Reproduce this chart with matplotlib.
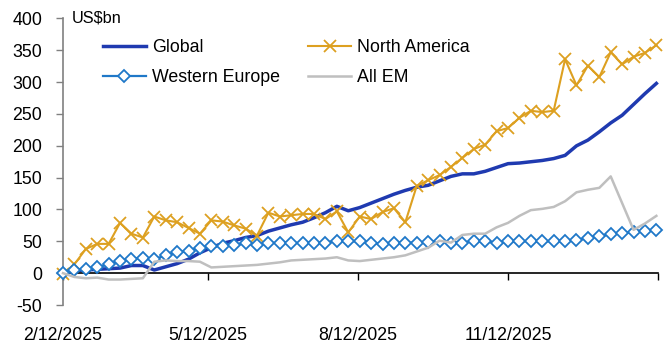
import matplotlib
matplotlib.use("Agg")
import matplotlib.pyplot as plt
import pandas as pd

# Weekly cumulative flows, US$bn
weeks = pd.date_range("2025-02-12", periods=53, freq="7D")

global_flows = [0, 4, 5, 6, 7, 8, 12, 12, 5, 10, 15, 22, 32, 40, 47, 51, 56, 59,
                66, 71, 76, 80, 87, 95, 105, 98, 103, 110, 117, 124, 130, 135,
                138, 145, 152, 156, 156, 160, 166, 172, 173, 175, 177, 180, 185,
                200, 209, 222, 236, 248, 265, 282, 298]

north_america = [-2, 14, 38, 46, 46, 79, 62, 56, 89, 83, 80, 71, 62, 83, 81, 75,
                 70, 59, 95, 89, 91, 93, 93, 85, 97, 64, 89, 85, 96, 102, 80, 137,
                 146, 154, 167, 181, 195, 202, 223, 228, 244, 255, 253, 255, 336,
                 295, 326, 308, 347, 328, 340, 346, 358]

western_europe = [0, 5, 7, 9, 14, 19, 23, 24, 22, 28, 33, 35, 40, 42, 43, 44, 47,
                  44, 48, 47, 48, 47, 48, 48, 51, 50, 50, 48, 46, 48, 48, 48, 49,
                  51, 48, 48, 50, 50, 48, 50, 50, 50, 50, 50, 50, 52, 55, 58, 61,
                  63, 64, 66, 68]

all_em = [0, -6, -8, -7, -10, -10, -9, -8, 18, 20, 19, 19, 18, 9, 10, 11, 12, 13,
          15, 17, 20, 21, 22, 23, 25, 20, 19, 21, 23, 25, 28, 34, 40, 51, 48, 60,
          62, 62, 72, 79, 90, 99, 101, 104, 113, 127, 131, 134, 152, 110, 68, 78,
          90]

tick_dates = ["2025-02-12", "2025-05-12", "2025-08-12", "2025-11-12", "2026-02-12"]
tick_labels = ["2/12/2025", "5/12/2025", "8/12/2025", "11/12/2025", ""]
y_ticks = [-50, 0, 50, 100, 150, 200, 250, 300, 350, 400]

plt.rcParams["font.family"] = ["Liberation Sans", "DejaVu Sans"]
FS = 12.8

fig = plt.figure(figsize=(6.67, 3.47), dpi=100)
ax = fig.add_axes([63 / 667, 1 - 305 / 347, 595 / 667, (305 - 18.5) / 347])

c_global = "#1F3AB0"
c_na = "#DDA020"
c_we = "#1F78C8"
c_em = "#BFBFBF"

l_g, = ax.plot(weeks, global_flows, color=c_global, lw=2.5, label="Global",
               zorder=3, clip_on=False)
l_na, = ax.plot(weeks, north_america, color=c_na, lw=1.5, marker="x", ms=8,
                mew=1.3, label="North America", zorder=4, clip_on=False)
l_we, = ax.plot(weeks, western_europe, color=c_we, lw=1.6, marker="D", ms=5.8,
                mfc="white", mec=c_we, mew=1.3, label="Western Europe",
                zorder=5, clip_on=False)
l_em, = ax.plot(weeks, all_em, color=c_em, lw=1.8, label="All EM", zorder=6,
                clip_on=False)

ax.set_xlim(pd.Timestamp("2025-02-12"), pd.Timestamp("2026-02-12"))
ax.set_ylim(-50, 400)
ax.set_yticks(y_ticks)
ax.set_yticklabels([str(v) for v in y_ticks], fontsize=FS)

# date labels sit along the bottom; the axis line itself crosses at zero
ticks = [pd.Timestamp(d) for d in tick_dates]
ax.set_xticks(ticks)
ax.set_xticklabels(tick_labels, fontsize=FS)
ax.tick_params(axis="x", length=0, pad=16)
ax.tick_params(axis="y", length=5, width=1, color="#808080", pad=10)

for side in ["top", "right", "bottom"]:
    ax.spines[side].set_visible(False)
ax.spines["left"].set_color("#808080")
ax.spines["left"].set_linewidth(1.2)

zero_axis = ax.secondary_xaxis(50 / 450)
zero_axis.set_xticks(ticks)
zero_axis.set_xticklabels([""] * len(ticks))
zero_axis.tick_params(axis="x", length=5, width=1, color="black", direction="out")
zero_axis.spines["bottom"].set_color("black")
zero_axis.spines["bottom"].set_linewidth(1.2)

ax.text(0.015, 1.0, "US$bn", transform=ax.transAxes, ha="left", va="center",
        fontsize=FS - 1)

leg = fig.legend([l_g, l_we, l_na, l_em],
                 ["Global", "Western Europe", "North America", "All EM"],
                 ncol=2, frameon=False, fontsize=FS, loc="upper left",
                 bbox_to_anchor=(103 / 667, 1 - 39 / 347), borderpad=0,
                 borderaxespad=0, handlelength=2.4, handletextpad=0.35,
                 columnspacing=1.6, labelspacing=0.75)

fig.savefig("out.png", dpi=100)
